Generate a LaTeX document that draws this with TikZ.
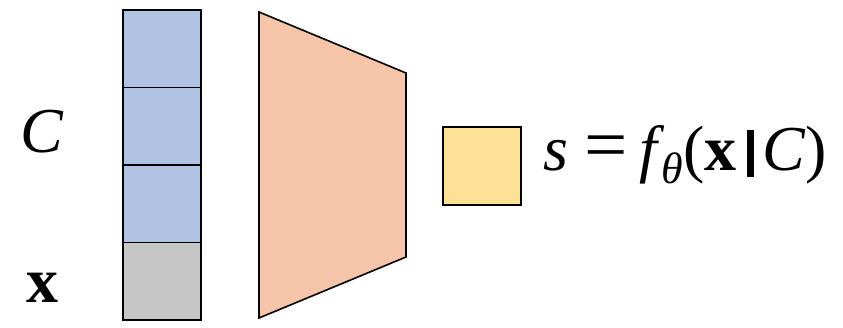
\documentclass[tikz,border=0pt]{standalone}
\usepackage{fontspec}
\setmainfont{Liberation Serif}[ItalicFont={Liberation Serif Italic},BoldFont={Liberation Serif Bold}]
\definecolor{cblue}{HTML}{B1C3E3}
\definecolor{cpeach}{HTML}{F6C5A9}
\definecolor{cgray}{HTML}{C6C6C6}
\definecolor{cyellow}{HTML}{FCE196}
\tikzset{cell/.style={draw=black, line width=1.6pt, minimum width=78pt, minimum height=77.5pt, inner sep=0pt, outer sep=0pt},
lbl/.style={inner sep=0pt, font=\fontsize{64}{70}\selectfont}}
\begin{document}
\begin{tikzpicture}[x=1pt,y=-1pt]
\useasboundingbox (0,0) rectangle (843,327);
\node[cell, fill=cblue, anchor=north west] (b1) at (123,10) {};
\node[cell, fill=cblue, anchor=north west] (b2) at (123,87.5) {};
\node[cell, fill=cblue, anchor=north west] (b3) at (123,165) {};
\node[cell, fill=cgray, anchor=north west] (b4) at (123,242.5) {};
\draw[line width=1.6pt, fill=cpeach, line join=miter] (259,12) -- (406,73) -- (406,257) -- (259,318) -- cycle;
\node[cell, fill=cyellow, minimum width=78pt, minimum height=78pt, anchor=north west] (out) at (443,127) {};
\node[lbl, anchor=base] (C) at (42,152) {\textit{C}};
\node[lbl, anchor=base] (x) at (42,302) {\textbf{x}};
\node[lbl, anchor=base west] (eq) at (543,170) {\textit{s}\hspace{16pt}\raisebox{1pt}{\scalebox{1.2}[1.15]{=}}\hspace{12pt}\textit{f}\hspace{-3pt}\raisebox{-13pt}{\fontsize{44}{44}\selectfont\textit{θ}}\hspace{0pt}(\textbf{x}\hspace{10pt}\rule[-7pt]{7.5pt}{47pt}\hspace{8pt}\textit{C})};
\end{tikzpicture}
\end{document}
